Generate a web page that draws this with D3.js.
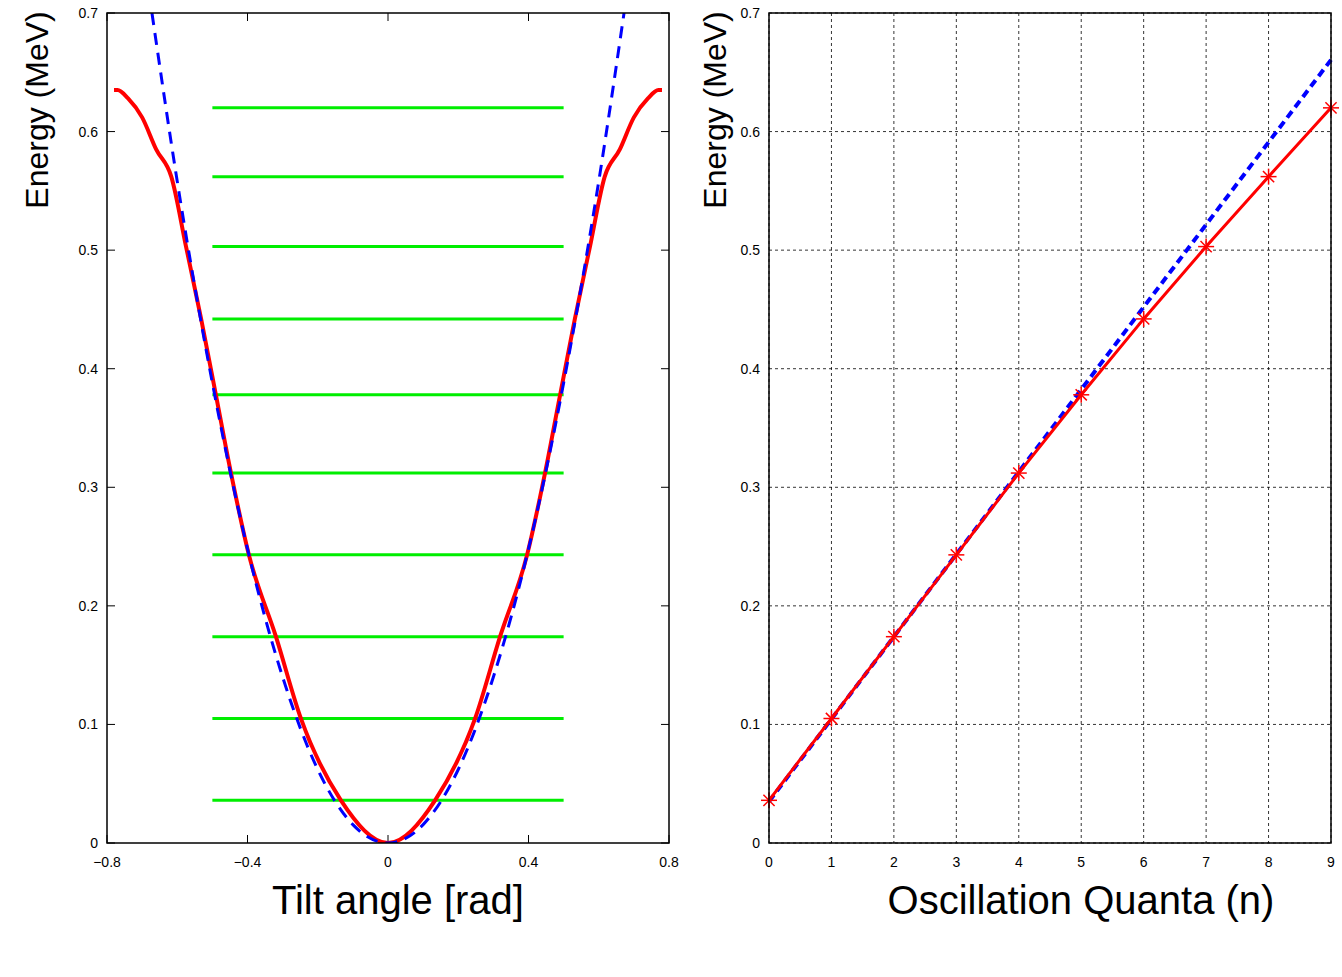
<!DOCTYPE html><html><head><meta charset="utf-8"><script src="https://cdn.jsdelivr.net/npm/d3@7"></script>
<style>body{margin:0;background:#fff}</style></head><body><svg id="c" width="1342" height="977"></svg><script>
const levels=[0.036,0.105,0.174,0.243,0.312,0.378,0.442,0.503,0.562,0.620];
const redTheta=[-0.78,-0.77,-0.74,-0.70,-0.66,-0.617,-0.575,-0.532,-0.49,-0.447,-0.396,-0.319,-0.248,-0.134,0,0.134,0.248,0.319,0.396,0.447,0.49,0.532,0.575,0.617,0.66,0.70,0.74,0.77,0.78];
const redE=[0.635,0.635,0.628,0.612,0.585,0.562,0.503,0.442,0.378,0.312,0.243,0.174,0.105,0.036,0,0.036,0.105,0.174,0.243,0.312,0.378,0.442,0.503,0.562,0.585,0.612,0.628,0.635,0.635];
const blueTheta=[-0.672,-0.6,-0.5,-0.4,-0.3,-0.2,-0.1,0,0.1,0.2,0.3,0.4,0.5,0.6,0.672];
const blueE=[0.70,0.558,0.388,0.248,0.14,0.062,0.0155,0,0.0155,0.062,0.14,0.248,0.388,0.558,0.70];
const quanta=[0,1,2,3,4,5,6,7,8,9];
const harmE=[0.035,0.1045,0.174,0.2435,0.313,0.3825,0.452,0.5215,0.591,0.6605];
const svg=d3.select("#c");
const yTop=13,bot=843;
const y=d3.scaleLinear().domain([0,0.7]).range([bot,yTop]);
const yt=d3.range(0,0.71,0.1);
function frame(x0,x1){svg.append("rect").attr("x",x0).attr("y",yTop).attr("width",x1-x0).attr("height",bot-yTop).attr("fill","none").attr("stroke","#000").attr("stroke-width",1.5);}
const tf="Liberation Sans, Arial, sans-serif";
const nf="Liberation Sans Narrow, Arial Narrow, sans-serif";
// left
const xl=d3.scaleLinear().domain([-0.8,0.8]).range([107,669]);
const gL=svg.append("g");
yt.forEach(v=>{gL.append("line").attr("x1",107).attr("x2",115).attr("y1",y(v)).attr("y2",y(v)).attr("stroke","#000");
gL.append("line").attr("x1",661).attr("x2",669).attr("y1",y(v)).attr("y2",y(v)).attr("stroke","#000");
gL.append("text").attr("x",98).attr("y",y(v)+5).attr("text-anchor","end").attr("font-family",tf).attr("font-size",14).text(v===0?"0":d3.format(".1f")(v));});
[-0.8,-0.4,0,0.4,0.8].forEach(v=>{gL.append("line").attr("x1",xl(v)).attr("x2",xl(v)).attr("y1",bot).attr("y2",bot-8).attr("stroke","#000");
gL.append("line").attr("x1",xl(v)).attr("x2",xl(v)).attr("y1",yTop).attr("y2",yTop+8).attr("stroke","#000");
gL.append("text").attr("x",xl(v)).attr("y",867).attr("text-anchor","middle").attr("font-family",tf).attr("font-size",14).text(v===0?"0":d3.format(".1f")(v));});
svg.append("defs").append("clipPath").attr("id","cl").append("rect").attr("x",107).attr("y",yTop).attr("width",562).attr("height",bot-yTop);
const cl=gL.append("g").attr("clip-path","url(#cl)");
levels.forEach(v=>cl.append("line").attr("x1",xl(-0.5)).attr("x2",xl(0.5)).attr("y1",y(v)).attr("y2",y(v)).attr("stroke","#00ee00").attr("stroke-width",3));
const lineL=d3.line().x(d=>xl(d[0])).y(d=>y(d[1])).curve(d3.curveMonotoneX);
cl.append("path").attr("d",lineL(redTheta.map((t,i)=>[t,redE[i]]))).attr("fill","none").attr("stroke","#ff0000").attr("stroke-width",4);
cl.append("path").attr("d",lineL(blueTheta.map((t,i)=>[t,blueE[i]]))).attr("fill","none").attr("stroke","#0000ff").attr("stroke-width",3).attr("stroke-dasharray","12,8");
frame(107,669);
svg.append("text").attr("x",398).attr("y",914).attr("text-anchor","middle").attr("font-family",tf).attr("font-size",40).text("Tilt angle [rad]");
// right
const xr=d3.scaleLinear().domain([0,9]).range([769,1331]);
const gR=svg.append("g");
yt.forEach(v=>{gR.append("line").attr("x1",769).attr("x2",1331).attr("y1",y(v)).attr("y2",y(v)).attr("stroke","#000").attr("stroke-dasharray","3,3").attr("stroke-width",0.8);
gR.append("text").attr("x",760).attr("y",y(v)+5).attr("text-anchor","end").attr("font-family",tf).attr("font-size",14).text(v===0?"0":d3.format(".1f")(v));});
quanta.forEach(v=>{gR.append("line").attr("x1",xr(v)).attr("x2",xr(v)).attr("y1",yTop).attr("y2",bot).attr("stroke","#000").attr("stroke-dasharray","3,3").attr("stroke-width",0.8);
gR.append("text").attr("x",xr(v)).attr("y",867).attr("text-anchor","middle").attr("font-family",tf).attr("font-size",14).text(v);});
const lineR=d3.line().x((d,i)=>xr(quanta[i])).y(d=>y(d));
gR.append("path").attr("d",lineR(harmE)).attr("fill","none").attr("stroke","#0000ff").attr("stroke-width",4).attr("stroke-dasharray","8,5");
gR.append("path").attr("d",lineR(levels)).attr("fill","none").attr("stroke","#ff0000").attr("stroke-width",3);
levels.forEach((v,i)=>{const cx=xr(quanta[i]),cy=y(v),r=8;
[[r,0],[0,r],[r*0.7,r*0.7],[r*0.7,-r*0.7]].forEach(([a,b])=>gR.append("line").attr("x1",cx-a).attr("x2",cx+a).attr("y1",cy-b).attr("y2",cy+b).attr("stroke","#ff0000").attr("stroke-width",1.5));});
frame(769,1331);
svg.append("text").attr("x",1081).attr("y",914).attr("text-anchor","middle").attr("font-family",nf).attr("font-stretch","condensed").attr("font-size",40).text("Oscillation Quanta (n)");
[[48,"Energy (MeV)"],[726,"Energy (MeV)"]].forEach(([x,t])=>svg.append("text").attr("transform",`translate(${x},110) rotate(-90)`).attr("text-anchor","middle").attr("font-family",nf).attr("font-stretch","condensed").attr("font-size",32).text(t));
</script></body></html>
